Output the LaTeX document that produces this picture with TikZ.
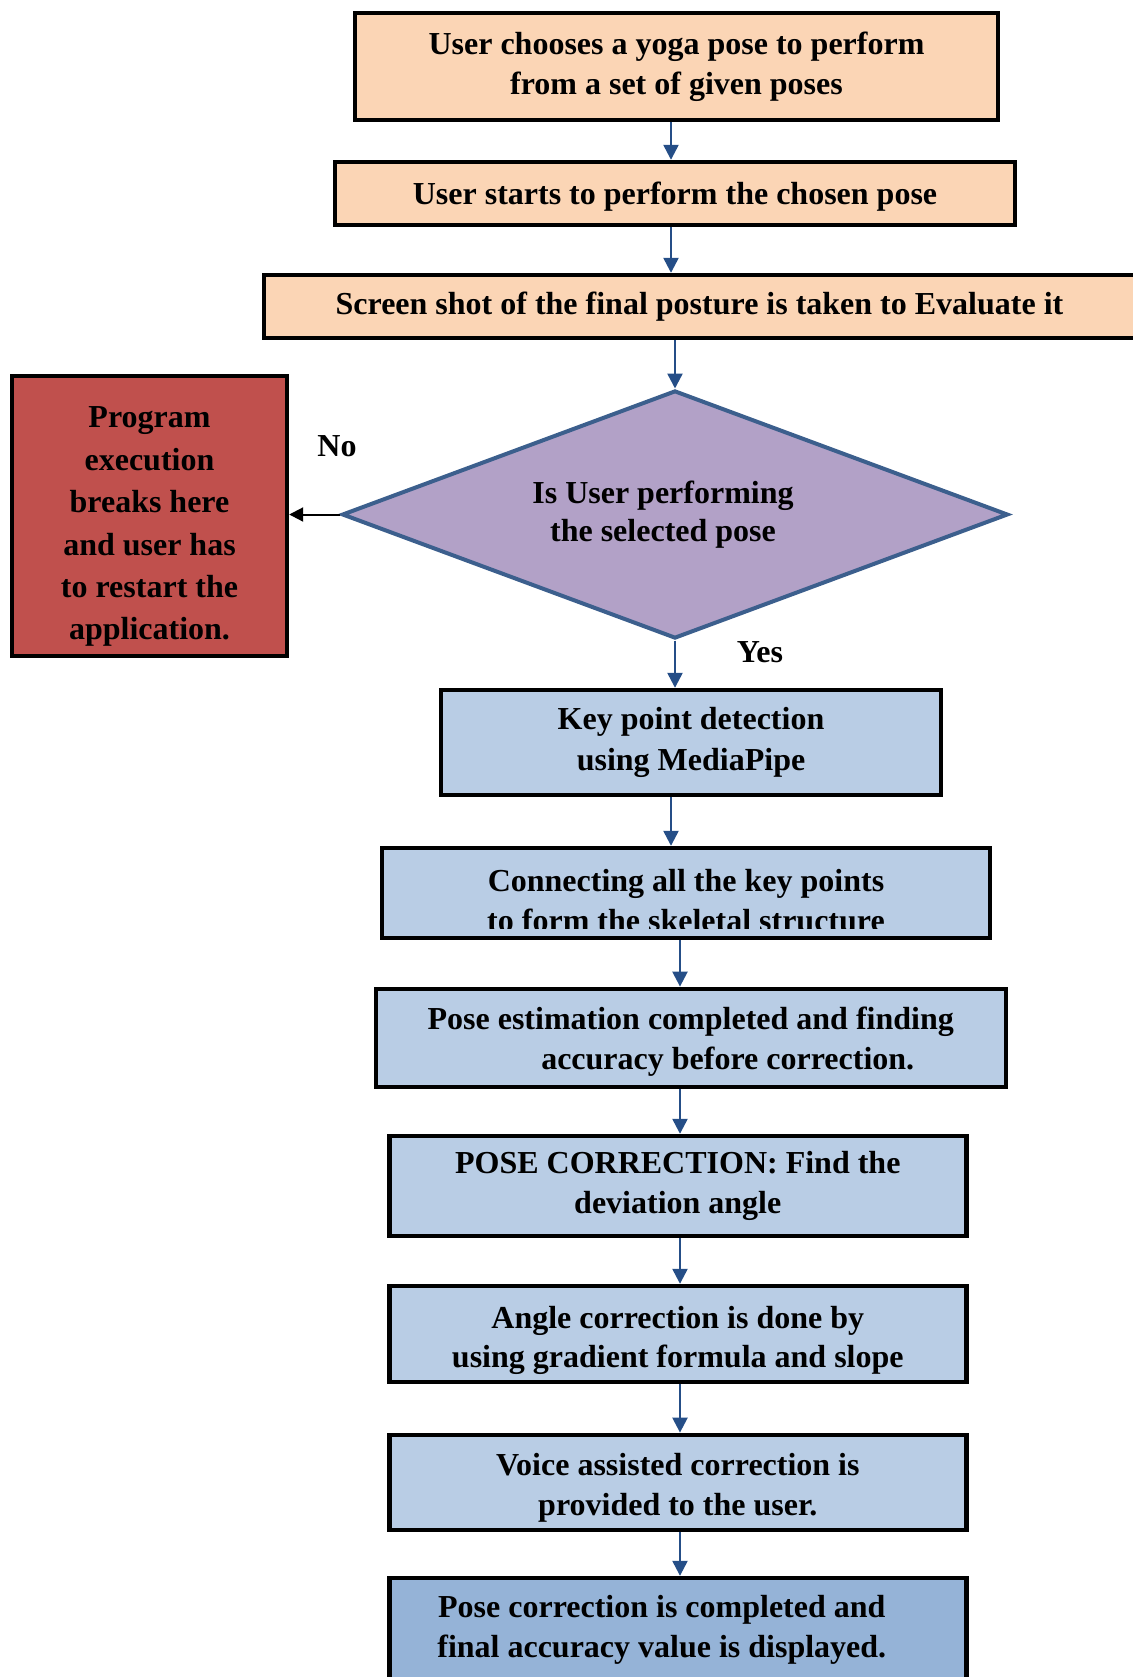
\documentclass[tikz,border=0pt]{standalone}
\usepackage{fontspec}
\setmainfont{Liberation Serif}
\usepackage{tikz}
\usetikzlibrary{calc,arrows.meta,positioning,shapes.geometric}
\definecolor{peachx}{HTML}{FBD5B5}
\definecolor{bluex}{HTML}{B9CDE5}
\definecolor{bluedk}{HTML}{95B3D7}
\definecolor{redx}{HTML}{C0504D}
\definecolor{lilacx}{HTML}{B2A1C7}
\definecolor{edgex}{HTML}{3C5F8D}
\definecolor{arrx}{HTML}{254E87}
\newcommand{\tdrop}[1]{\rule{0pt}{#1}}
\tikzset{
  bx/.style={draw=black,line width=2.2pt,inner sep=0pt,align=center,font=\bfseries\fontsize{16}{19.8}\selectfont},
  pk/.style={bx,fill=peachx},
  bl/.style={bx,fill=bluex},
  dm/.style={diamond,aspect=2.7,draw=edgex,line width=2pt,fill=lilacx,inner sep=0pt,align=center,font=\bfseries\fontsize{16}{18.7}\selectfont},
  rd/.style={bx,fill=redx,font=\bfseries\fontsize{16}{21.2}\selectfont},
  ar/.style={-{Triangle[length=7.5pt,width=7.5pt]},line width=1.2pt,arrx},
  arb/.style={-{Triangle[length=7pt,width=7pt]},line width=1pt,black},
  lb/.style={font=\bfseries\fontsize{16}{19.8}\selectfont,inner sep=0pt}
}
\begin{document}
\begin{tikzpicture}[x=0.5pt,y=-0.5pt]
\clip (0,0) rectangle (1133,1677);
\node[pk,minimum width=321.5pt,minimum height=53.5pt] (sel) at (676.5,66.5) {User chooses a yoga pose to perform\\from a set of given poses};
\node[pk,minimum width=340pt,minimum height=31.5pt] (start) at (675,193.5) {\tdrop{14.2pt}User starts to perform the chosen pose};
\node[pk,minimum width=435.5pt,minimum height=31.5pt] (shot) at (699.5,306.5) {Screen shot of the final posture is taken to Evaluate it};
\node[dm,minimum width=333pt,minimum height=124pt] (chk) at (675,514.5) {Is User performing\hspace*{12pt}\\the selected pose\hspace*{12pt}};
\node[rd,minimum width=137.5pt,minimum height=140pt] (stop) at (149.5,516) {\tdrop{21.3pt}Program\\execution\\breaks here\\and user has\\to restart the\\application.};
\node[lb] (no) at (337,446) {No};
\node[lb] (yes) at (760,652) {Yes};
\node[bl,minimum width=250pt,minimum height=52.5pt,font=\bfseries\fontsize{16}{20.9}\selectfont] (kp) at (691,742.5) {Key point detection\\using MediaPipe};
\node[bl,minimum width=304pt,minimum height=45pt] (conn) at (686,893) {};
\begin{scope}
\clip (conn.north west) rectangle ($(conn.south east)+(0,-12)$);
\node[lb,align=center] (connt) at (686,900.5) {Connecting all the key points\\to form the skeletal structure};
\end{scope}
\node[bl,minimum width=315pt,minimum height=49pt] (est) at (690.7,1037.8) {\tdrop{15.3pt}Pose estimation completed and finding\\\hspace*{37pt}accuracy before correction.};
\node[bl,minimum width=288.5pt,minimum height=50pt] (corr) at (677.8,1186) {POSE CORRECTION: Find the\\deviation angle};
\node[bl,minimum width=288.5pt,minimum height=48pt] (ang) at (677.8,1334) {\tdrop{17.4pt}Angle correction is done by\\using gradient formula and slope};
\node[bl,minimum width=288.5pt,minimum height=47.5pt] (voice) at (677.8,1482.3) {\tdrop{16.4pt}Voice assisted correction is\\provided to the user.};
\node[bx,fill=bluedk,minimum width=288.5pt,minimum height=52pt] (fin) at (677.8,1630) {Pose correction is completed and\hspace*{16pt}\\final accuracy value is displayed.\hspace*{16pt}};
\coordinate (up) at (671,0);
\coordinate (lo) at (680,0);
\draw[ar] (sel.south -| up) -- (start.north -| up);
\draw[ar] (start.south -| up) -- (shot.north -| up);
\draw[ar] (shot.south -| chk.north) -- (chk.north);
\draw[arb] (chk.west) -- (chk.west -| stop.east);
\draw[ar] (chk.south) -- (kp.north -| chk.south);
\draw[ar] (kp.south -| up) -- (conn.north -| up);
\draw[ar] (conn.south -| lo) -- (est.north -| lo);
\draw[ar] (est.south -| lo) -- (corr.north -| lo);
\draw[ar] (corr.south -| lo) -- (ang.north -| lo);
\draw[ar] (ang.south -| lo) -- (voice.north -| lo);
\draw[ar] (voice.south -| lo) -- (fin.north -| lo);
\end{tikzpicture}
\end{document}
